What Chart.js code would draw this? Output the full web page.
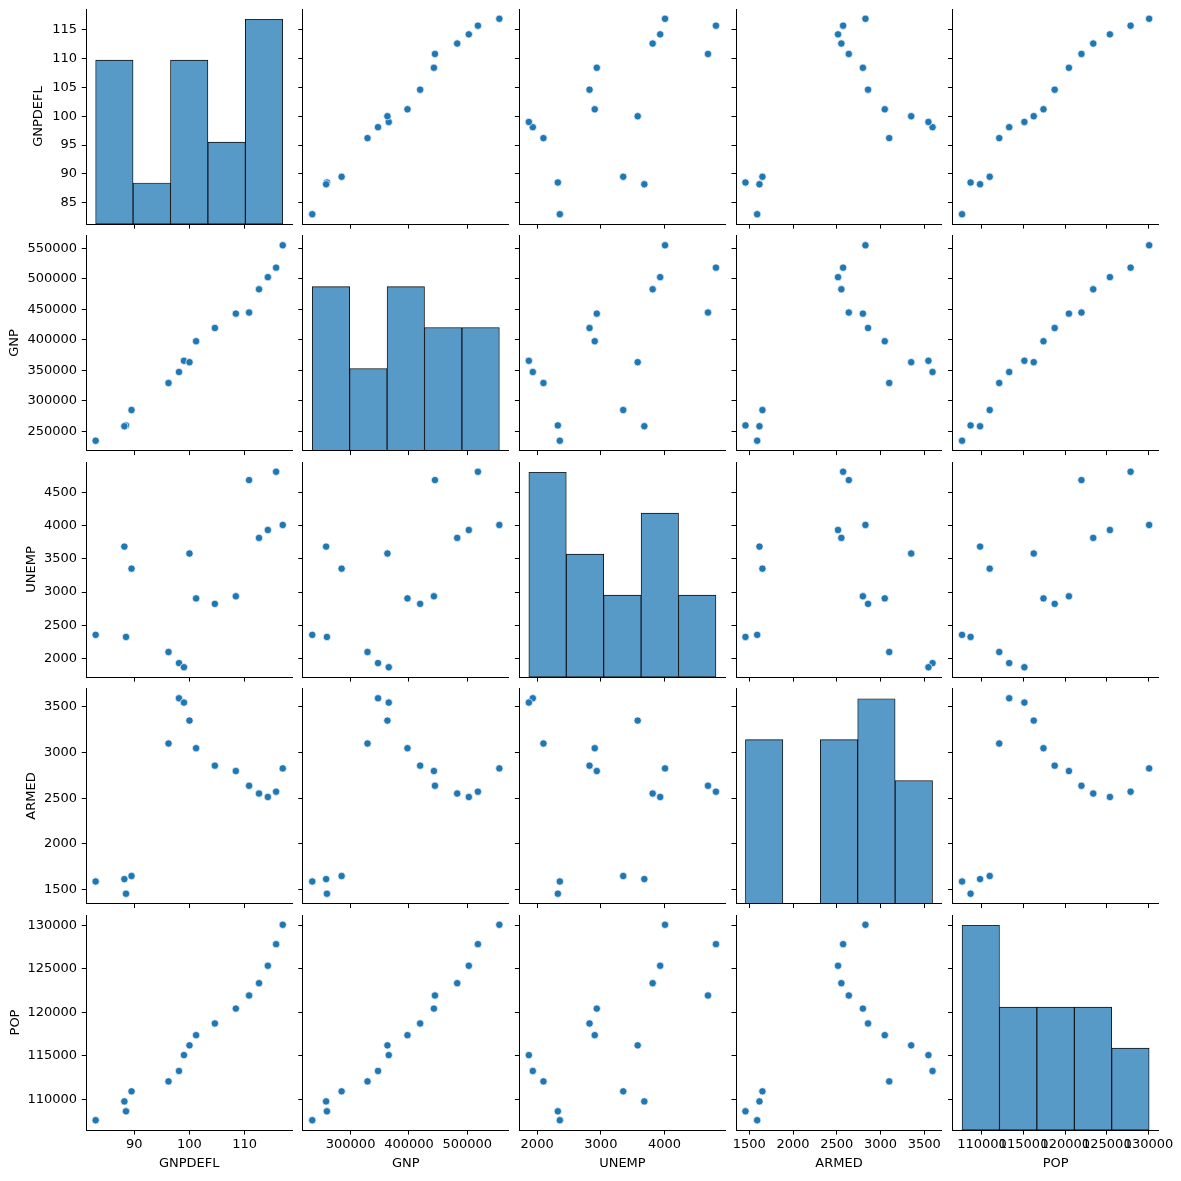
<!DOCTYPE html>
<html>
<head>
<meta charset="utf-8">
<script src="https://cdn.jsdelivr.net/npm/chart.js@4.4.0/dist/chart.umd.min.js"></script>
<style>
  html, body { margin: 0; padding: 0; background: #fff; }
  #fig { position: relative; width: 1181px; height: 1181px; overflow: hidden; background: #fff; }
  #fig canvas { position: absolute; }
</style>
</head>
<body>
<div id="fig"></div>
<script>
// Longley data, one array per variable
var names = ['GNPDEFL', 'GNP', 'UNEMP', 'ARMED', 'POP'];
var gnpdefl = [83.0, 88.5, 88.2, 89.5, 96.2, 98.1, 99.0, 100.0, 101.2, 104.6, 108.4, 110.8, 112.6, 114.2, 115.7, 116.9];
var gnp = [234289, 259426, 258054, 284599, 328975, 346999, 365385, 363112, 397469, 419180, 442769, 444546, 482704, 502601, 518173, 554894];
var unemp = [2356, 2325, 3682, 3351, 2099, 1932, 1870, 3578, 2904, 2822, 2936, 4681, 3813, 3931, 4806, 4007];
var armed = [1590, 1456, 1616, 1650, 3099, 3594, 3547, 3350, 3048, 2857, 2798, 2637, 2552, 2514, 2572, 2827];
var pop = [107608, 108632, 109773, 110929, 112075, 113270, 115094, 116219, 117388, 118734, 120445, 121950, 123366, 125368, 127852, 130081];

// histogram counts (5 bins each) as read from the diagonal
var gnpdeflCounts = [4, 1, 4, 2, 5];
var gnpCounts = [4, 2, 4, 3, 3];
var unempCounts = [5, 3, 2, 4, 2];
var armedCounts = [4, 0, 4, 5, 3];
var popCounts = [5, 3, 3, 3, 2];

// tick labels
var gnpdeflYTicks = [85, 90, 95, 100, 105, 110, 115];
var gnpYTicks = [250000, 300000, 350000, 400000, 450000, 500000, 550000];
var unempYTicks = [2000, 2500, 3000, 3500, 4000, 4500];
var armedYTicks = [1500, 2000, 2500, 3000, 3500];
var popYTicks = [110000, 115000, 120000, 125000, 130000];
var gnpdeflXTicks = [90, 100, 110];
var gnpXTicks = [300000, 400000, 500000];
var unempXTicks = [2000, 3000, 4000];
var armedXTicks = [1500, 2000, 2500, 3000, 3500];
var popXTicks = [110000, 115000, 120000, 125000, 130000];

var cols = [gnpdefl, gnp, unemp, armed, pop];
var counts = [gnpdeflCounts, gnpCounts, unempCounts, armedCounts, popCounts];
var yTicks = [gnpdeflYTicks, gnpYTicks, unempYTicks, armedYTicks, popYTicks];
var xTicks = [gnpdeflXTicks, gnpXTicks, unempXTicks, armedXTicks, popXTicks];

// layout of the grid (pixels)
var colLeft0 = 86.3, colPitch = 216.6, cellW = 205.8;
var rowTop0 = 9, rowPitch = 226.5, cellH = 215;
var yTitleX = [39, 15, 32, 32, 15.7];
var xTitleY = 1163.3;

Chart.defaults.font.family = "'DejaVu Sans', sans-serif";
Chart.defaults.font.size = 13;
Chart.defaults.color = '#000';

function limits(a) {
  var lo = Math.min.apply(null, a), hi = Math.max.apply(null, a);
  var m = (hi - lo) * 0.05;
  return [lo - m, hi + m];
}

// the diagonal histograms share one count axis
var maxCount = Math.max.apply(null, counts.map(function (k) { return Math.max.apply(null, k); }));

var fig = document.getElementById('fig');

for (var r = 0; r < 5; r++) {
  for (var c = 0; c < 5; c++) {
    makeCell(r, c);
  }
}

function makeCell(r, c) {
  var L = colLeft0 + c * colPitch;
  var T = rowTop0 + r * rowPitch;
  var cl = c === 0 ? 0 : Math.floor(L - 8);
  var ct = Math.floor(T - 5);
  var cr = c === 4 ? 1181 : Math.ceil(L + cellW + 5);
  var cb = r === 4 ? 1181 : Math.ceil(T + cellH + 7);
  var padL = L - cl, padT = T - ct, padR = cr - (L + cellW), padB = cb - (T + cellH);

  var cv = document.createElement('canvas');
  cv.width = cr - cl;
  cv.height = cb - ct;
  cv.style.left = cl + 'px';
  cv.style.top = ct + 'px';
  fig.appendChild(cv);

  var xl = limits(cols[c]), yl = limits(cols[r]);

  var grid = { drawOnChartArea: false, drawTicks: true, tickLength: 4.6, color: '#000', lineWidth: 1, offset: false };
  var border = { display: true, color: '#000', width: 1 };

  var scales = {
    x: {
      type: 'linear', position: 'bottom', min: xl[0], max: xl[1], bounds: 'data', offset: false,
      afterBuildTicks: function (s) { s.ticks = xTicks[c].map(function (v) { return { value: v }; }); },
      afterFit: function (s) { s.height = padB; s.paddingLeft = 0; s.paddingRight = 0; s.paddingTop = 0; s.paddingBottom = 0; },
      grid: grid, border: border,
      ticks: { color: r === 4 ? '#000' : 'rgba(0,0,0,0)', padding: 2.6, autoSkip: false, maxRotation: 0, minRotation: 0,
               callback: function (v) { return String(v); } },
      title: { display: r === 4, text: names[c], color: '#000', padding: { top: 0, bottom: 1181 - xTitleY - 7.8 } }
    },
    y: {
      type: 'linear', position: 'left', min: yl[0], max: yl[1], bounds: 'data',
      afterBuildTicks: function (s) { s.ticks = yTicks[r].map(function (v) { return { value: v }; }); },
      afterFit: function (s) { s.width = padL; s.paddingLeft = 0; s.paddingRight = 0; s.paddingTop = 0; s.paddingBottom = 0; },
      grid: grid, border: border,
      ticks: { color: c === 0 ? '#000' : 'rgba(0,0,0,0)', padding: 4.6, autoSkip: false,
               callback: function (v) { return String(v); } },
      title: { display: c === 0, text: names[r], color: '#000', padding: { top: yTitleX[r] - 7.8, bottom: 0 } }
    }
  };

  var type, datasets;
  if (r === c) {
    var a = cols[c];
    var lo = Math.min.apply(null, a), hi = Math.max.apply(null, a);
    var bw = (hi - lo) / counts[c].length;
    scales.yc = { type: 'linear', display: false, min: 0, max: maxCount * 1.05, bounds: 'data' };
    type = 'bar';
    datasets = [{
      data: counts[c].map(function (n, i) { return { x: lo + (i + 0.5) * bw, y: n }; }),
      xAxisID: 'x', yAxisID: 'yc',
      backgroundColor: '#5799c7',
      borderColor: 'rgba(0,0,0,0.95)',
      borderWidth: 0.9,
      borderSkipped: false,
      categoryPercentage: 1,
      barPercentage: 1
    }];
  } else {
    type = 'scatter';
    datasets = [{
      data: cols[c].map(function (x, i) { return { x: x, y: cols[r][i] }; }),
      backgroundColor: '#1f77b4',
      borderColor: '#ffffff',
      borderWidth: 0.7,
      pointRadius: 3.7,
      clip: false
    }];
  }

  new Chart(cv, {
    type: type,
    data: { datasets: datasets },
    options: {
      responsive: false,
      animation: false,
      events: [],
      layout: { padding: { left: 0, top: padT, right: padR, bottom: 0 } },
      plugins: { legend: { display: false }, tooltip: { enabled: false } },
      scales: scales
    }
  });
}
</script>
</body>
</html>
